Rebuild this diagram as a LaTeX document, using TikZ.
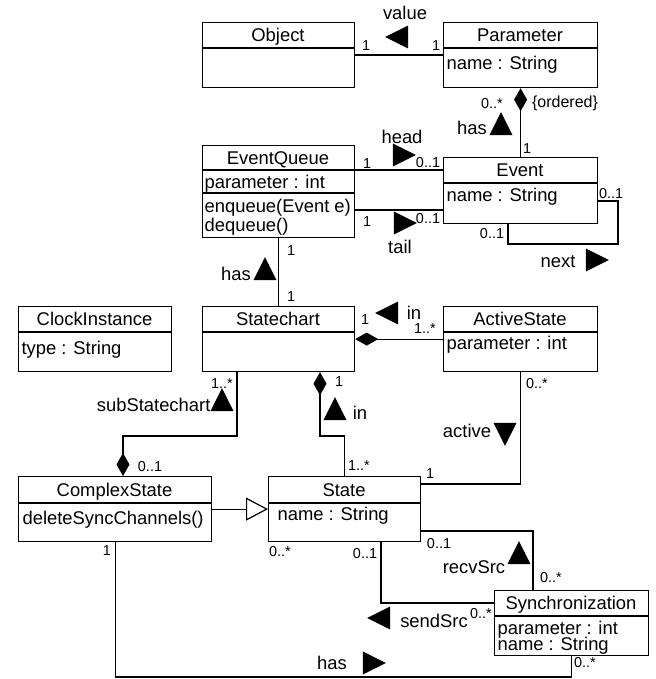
\documentclass[tikz,border=0pt]{standalone}
\usepackage{fontspec}
\setmainfont{Liberation Sans}
\usetikzlibrary{shapes.geometric,arrows.meta}

\begin{document}
\begin{tikzpicture}[x=0.5pt, y=-0.5pt, line width=0.6pt,
    cls/.style = {draw, rectangle, inner sep=0pt, anchor=north west},
    title/.style = {anchor=base, yshift=-3.3pt, inner sep=0pt, font=\fontsize{9.2}{11}\selectfont},
    attr/.style = {anchor=base west, yshift=-3.3pt, inner sep=0pt, font=\fontsize{9.2}{11}\selectfont},
    mult/.style = {anchor=base, yshift=-2.6pt, inner sep=0pt, font=\fontsize{7.2}{8}\selectfont},
    dirmark/.style = {isosceles triangle, isosceles triangle stretches, fill=black, inner sep=0pt,
        minimum width=11.5pt, minimum height=11.5pt, shape border rotate=#1},
    comp/.style = {{Diamond[length=11.5pt,width=6.5pt]}-},
    compend/.style = {-{Diamond[length=11.5pt,width=6.5pt]}},
    gen/.style = {-{Triangle[open,length=11pt,width=11.5pt]}}]
    \useasboundingbox (0,0) rectangle (655,679);

    %classes
    \node[cls, minimum width=76pt, minimum height=32.5pt] (object) at (202,22) {};
    \node[cls, minimum width=77pt, minimum height=32.5pt] (parameter) at (443,22) {};
    \node[cls, minimum width=76pt, minimum height=46pt] (eventqueue) at (202,145) {};
    \node[cls, minimum width=77pt, minimum height=33pt] (event) at (443,157) {};
    \node[cls, minimum width=76.5pt, minimum height=32.5pt] (clock) at (18,306) {};
    \node[cls, minimum width=76pt, minimum height=32.5pt] (statechart) at (202,306) {};
    \node[cls, minimum width=77pt, minimum height=32.5pt] (active) at (443,306) {};
    \node[cls, minimum width=96.5pt, minimum height=32.5pt] (complex) at (18,476) {};
    \node[cls, minimum width=76pt, minimum height=32.5pt] (state) at (268,476) {};
    \node[cls, minimum width=77pt, minimum height=32.5pt] (sync) at (494,590) {};

    %compartments
    \draw (object.west |- 0,48) -- (object.east |- 0,48);
    \draw (parameter.west |- 0,48) -- (parameter.east |- 0,48);
    \draw (eventqueue.west |- 0,170) -- (eventqueue.east |- 0,170);
    \draw (eventqueue.west |- 0,193) -- (eventqueue.east |- 0,193);
    \draw (event.west |- 0,183) -- (event.east |- 0,183);
    \draw (clock.west |- 0,332) -- (clock.east |- 0,332);
    \draw (statechart.west |- 0,332) -- (statechart.east |- 0,332);
    \draw (active.west |- 0,332) -- (active.east |- 0,332);
    \draw (complex.west |- 0,503) -- (complex.east |- 0,503);
    \draw (state.west |- 0,503) -- (state.east |- 0,503);
    \draw (sync.west |- 0,616) -- (sync.east |- 0,616);

    \node[title] (objectT) at (278,35) {Object};
    \node[title] (parameterT) at (520,35) {Parameter};
    \node[attr] (parameterA) at (446,63) {name : String};
    \node[title] (eventqueueT) at (278,157.5) {EventQueue};
    \node[attr] (eventqueueA) at (204,182) {parameter : int};
    \node[attr] (eventqueueB) at (204,206) {enqueue(Event e)};
    \node[attr] (eventqueueC) at (204,225) {dequeue()};
    \node[title] (eventT) at (520,170) {Event};
    \node[attr] (eventA) at (446,195) {name : String};
    \node[title] (clockT) at (94.5,319) {ClockInstance};
    \node[attr] (clockA) at (21,348) {type : String};
    \node[title] (statechartT) at (278,319) {Statechart};
    \node[title] (activeT) at (520,319) {ActiveState};
    \node[attr] (activeA) at (446,343) {parameter : int};
    \node[title] (complexT) at (114.5,489.5) {ComplexState};
    \node[attr] (complexA) at (22,518) {deleteSyncChannels()};
    \node[title] (stateT) at (344,489.5) {State};
    \node[attr] (stateA) at (277,514) {name : String};
    \node[title] (syncT) at (571,603) {Synchronization};
    \node[attr] (syncA) at (497,628) {parameter : int};
    \node[attr] (syncB) at (497,644) {name : String};

    %associations
    \coordinate (headY) at (0,170);
    \coordinate (tailY) at (0,210);
    \coordinate (nextA) at (618,201);
    \coordinate (nextB) at (508,244);
    \coordinate (inA) at (320,436);
    \coordinate (subA) at (237,436);
    \coordinate (subB) at (123,436);
    \coordinate (actY) at (0,484);
    \coordinate (recvA) at (533,531);
    \coordinate (sendA) at (381,603);
    \coordinate (hasY) at (0,677);

    \draw (object.east) -- (parameter.west);
    \draw[comp] (parameter.south) -- (event.north);
    \draw (eventqueue.east |- headY) -- (event.west |- headY);
    \draw (eventqueue.east |- tailY) -- (event.west |- tailY);
    \draw (event.east |- nextA) -- (nextA) |- (nextB) -- (event.south -| nextB);
    \draw (eventqueue.south) -- (statechart.north);
    \draw[comp] (statechart.east) -- (active.west);
    \draw[comp] (statechart.south -| inA) -- (inA) -| (state.north);
    \draw[compend] (statechart.south -| subA) -- (subA) -- (subB) -- (complex.north -| subB);
    \draw (active.south) |- (state.east |- actY);
    \draw[gen] (complex.east) -- (state.west);
    \draw (state.east |- recvA) -- (recvA) -- (sync.north -| recvA);
    \draw (state.south -| sendA) -- (sendA) -- (sync.west |- sendA);
    \draw (complex.south) |- (sync.south |- hasY) -- (sync.south);

    %role names
    \node[title] (valueL) at (405,13) {value};
    \node[dirmark=180] (valueD) at (401,37) {};
    \node[title] (hasPL) at (472,128) {has};
    \node[dirmark=90] (hasPD) at (501,128) {};
    \node[title] (headL) at (402,137) {head};
    \node[dirmark=0] (headD) at (400,155) {};
    \node[title] (tailL) at (400,247) {tail};
    \node[dirmark=0] (tailD) at (401,223) {};
    \node[title] (nextL) at (558,261) {next};
    \node[dirmark=0] (nextD) at (593,260) {};
    \node[title] (hasQL) at (236,274) {has};
    \node[dirmark=90] (hasQD) at (265,273) {};
    \node[title] (inAL) at (414,313) {in};
    \node[dirmark=180] (inAD) at (391,313) {};
    \node[title, anchor=base east] (subL) at (211,405) {subStatechart};
    \node[dirmark=90] (subD) at (222,404) {};
    \node[title] (inSL) at (360,413) {in};
    \node[dirmark=90] (inSD) at (335,413) {};
    \node[title] (activeL) at (467,431) {active};
    \node[dirmark=270] (activeD) at (505,430) {};
    \node[title] (recvL) at (474,567) {recvSrc};
    \node[dirmark=90] (recvD) at (519,557) {};
    \node[title] (sendL) at (434,621) {sendSrc};
    \node[dirmark=180] (sendD) at (383,618) {};
    \node[title] (hasCL) at (332,663) {has};
    \node[dirmark=0] (hasCD) at (370,663) {};

    %multiplicities
    \node[mult] (m1) at (366,45) {1};
    \node[mult] (m2) at (436,45) {1};
    \node[mult] (m3) at (492,103) {0..*};
    \node[mult, font=\fontsize{8}{9}\selectfont] (ordered) at (565,102) {\{ordered\}};
    \node[mult] (m4) at (527,148) {1};
    \node[mult] (m5) at (367,163) {1};
    \node[mult] (m6) at (428,162) {0..1};
    \node[mult] (m7) at (367,221) {1};
    \node[mult] (m8) at (428,218) {0..1};
    \node[mult] (m9) at (611,193) {0..1};
    \node[mult] (m10) at (492,233) {0..1};
    \node[mult] (m11) at (291,250) {1};
    \node[mult] (m12) at (291,296) {1};
    \node[mult] (m13) at (365,319) {1};
    \node[mult] (m14) at (425,328) {1..*};
    \node[mult] (m15) at (222,383) {1..*};
    \node[mult] (m16) at (339,381) {1};
    \node[mult] (m17) at (537,383) {0..*};
    \node[mult] (m18) at (150,466) {0..1};
    \node[mult] (m19) at (359,465) {1..*};
    \node[mult] (m20) at (430,473) {1};
    \node[mult] (m21) at (107,550) {1};
    \node[mult] (m22) at (280,551) {0..*};
    \node[mult] (m23) at (365,553) {0..1};
    \node[mult] (m24) at (439,543) {0..1};
    \node[mult] (m25) at (551,577) {0..*};
    \node[mult] (m26) at (481,613) {0..*};
    \node[mult] (m27) at (585,662) {0..*};
\end{tikzpicture}
\end{document}
